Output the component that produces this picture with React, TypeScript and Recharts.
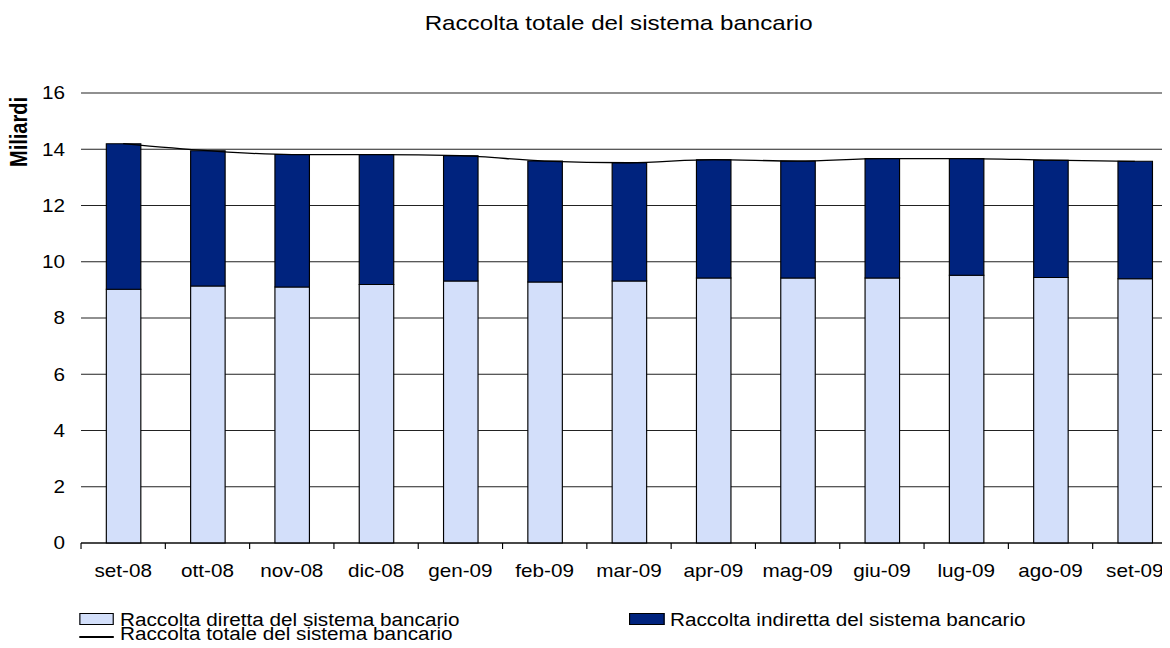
import { ComposedChart, Bar, Line, XAxis, YAxis, CartesianGrid } from 'recharts'

const months = ['set-08', 'ott-08', 'nov-08', 'dic-08', 'gen-09', 'feb-09', 'mar-09', 'apr-09', 'mag-09', 'giu-09', 'lug-09', 'ago-09', 'set-09']
const diretta = [9.02, 9.14, 9.1, 9.19, 9.32, 9.28, 9.32, 9.42, 9.42, 9.42, 9.52, 9.44, 9.4]
const indiretta = [5.18, 4.81, 4.71, 4.62, 4.45, 4.3, 4.2, 4.21, 4.16, 4.25, 4.15, 4.17, 4.17]
const totale = [14.2, 13.95, 13.81, 13.81, 13.77, 13.58, 13.52, 13.63, 13.58, 13.67, 13.67, 13.61, 13.57]
const yTicks = [0, 2, 4, 6, 8, 10, 12, 14, 16]

const title = 'Raccolta totale del sistema bancario'
const yLabel = 'Miliardi'

const data = months.map((m, i) => ({
  month: m,
  diretta: diretta[i],
  indiretta: indiretta[i],
  totale: totale[i]
}))

// the original is an excel picture stretched sideways, so the whole chart is drawn
// narrower and widened with scaleX
const SCALE_X = 1.15
const CHART_W = 1030
const CHART_H = 640
const MARGIN = { top: 85, right: 13.5, bottom: 0, left: 0 }
const Y_AXIS_W = 63.5
const X_AXIS_H = 105
const PLOT_W = CHART_W - Y_AXIS_W - MARGIN.right
const BAND = PLOT_W / months.length

const FONT = '"Liberation Sans", Arial, Helvetica, sans-serif'
const LIGHT = '#D3DFFA'
const DARK = '#00237E'

const legendItems = [
  { label: 'Raccolta diretta del sistema bancario', kind: 'box', color: LIGHT, left: 61.7, top: 602.5 },
  { label: 'Raccolta indiretta del sistema bancario', kind: 'box', color: DARK, left: 540, top: 602.5 },
  { label: 'Raccolta totale del sistema bancario', kind: 'line', color: '#000', left: 61.7, top: 617.2 }
]

const MonthTick = (props: any) => {
  const { x, y, payload } = props
  const edge = x - BAND / 2
  return (
    <g>
      <line x1={edge} y1={y} x2={edge} y2={y + 6} stroke="#000" strokeWidth={1} />
      <text x={x} y={y + 34} textAnchor="middle" fontSize={18} fill="#000" fontFamily={FONT}>
        {payload.value}
      </text>
    </g>
  )
}

export default function App() {
  return (
    <div style={{ width: 1162, height: CHART_H, overflow: 'hidden', position: 'relative' }}>
      <style>{'body{overflow:hidden}'}</style>
      <div
        style={{
          position: 'relative',
          width: CHART_W,
          height: CHART_H,
          transform: `scaleX(${SCALE_X})`,
          transformOrigin: '0 0',
          fontFamily: FONT,
          color: '#000'
        }}
      >
        <div
          style={{
            position: 'absolute',
            left: 0,
            top: 4.2,
            width: 1062,
            textAlign: 'center',
            fontSize: 21,
            lineHeight: '21px',
            whiteSpace: 'nowrap'
          }}
        >
          {title}
        </div>

        <ComposedChart width={CHART_W} height={CHART_H} data={data} margin={MARGIN}>
          <CartesianGrid vertical={false} stroke="#222" strokeWidth={1} />
          <XAxis
            dataKey="month"
            interval={0}
            height={X_AXIS_H}
            tickLine={false}
            tickSize={0}
            tickMargin={0}
            axisLine={{ stroke: '#000', strokeWidth: 1 }}
            tick={<MonthTick />}
          />
          <YAxis
            width={Y_AXIS_W}
            domain={[0, 16]}
            ticks={yTicks}
            axisLine={false}
            tickLine={false}
            tickSize={0}
            tickMargin={14}
            tick={{ fontSize: 18, fill: '#000', fontFamily: FONT }}
            label={{
              content: () => (
                <text
                  transform="translate(16.5, 124) rotate(-90)"
                  textAnchor="middle"
                  fontSize={20}
                  fontWeight="bold"
                  fill="#000"
                  fontFamily={FONT}
                >
                  {yLabel}
                </text>
              )
            }}
          />
          <Bar dataKey="diretta" stackId="a" fill={LIGHT} stroke="#000" strokeWidth={1} barSize={30} isAnimationActive={false} />
          <Bar dataKey="indiretta" stackId="a" fill={DARK} stroke="#000" strokeWidth={1} barSize={30} isAnimationActive={false} />
          <Line dataKey="totale" type="monotone" stroke="#000" strokeWidth={1.3} dot={false} activeDot={false} isAnimationActive={false} />
        </ComposedChart>

        {legendItems.map((item) => (
          <div
            key={item.label}
            style={{
              position: 'absolute',
              left: item.left,
              top: item.top,
              height: 18,
              fontSize: 18,
              lineHeight: '18px',
              whiteSpace: 'nowrap'
            }}
          >
            {item.kind === 'box' ? (
              <span
                style={{
                  position: 'absolute',
                  left: 0,
                  top: 2.5,
                  width: 30.5,
                  height: 12,
                  boxSizing: 'border-box',
                  border: '1px solid #000',
                  background: item.color
                }}
              />
            ) : (
              <span
                style={{
                  position: 'absolute',
                  left: 0,
                  top: 11.3,
                  width: 30.5,
                  height: 1.3,
                  background: item.color
                }}
              />
            )}
            <span style={{ position: 'absolute', left: 35.7, top: 0 }}>{item.label}</span>
          </div>
        ))}
      </div>
    </div>
  )
}
